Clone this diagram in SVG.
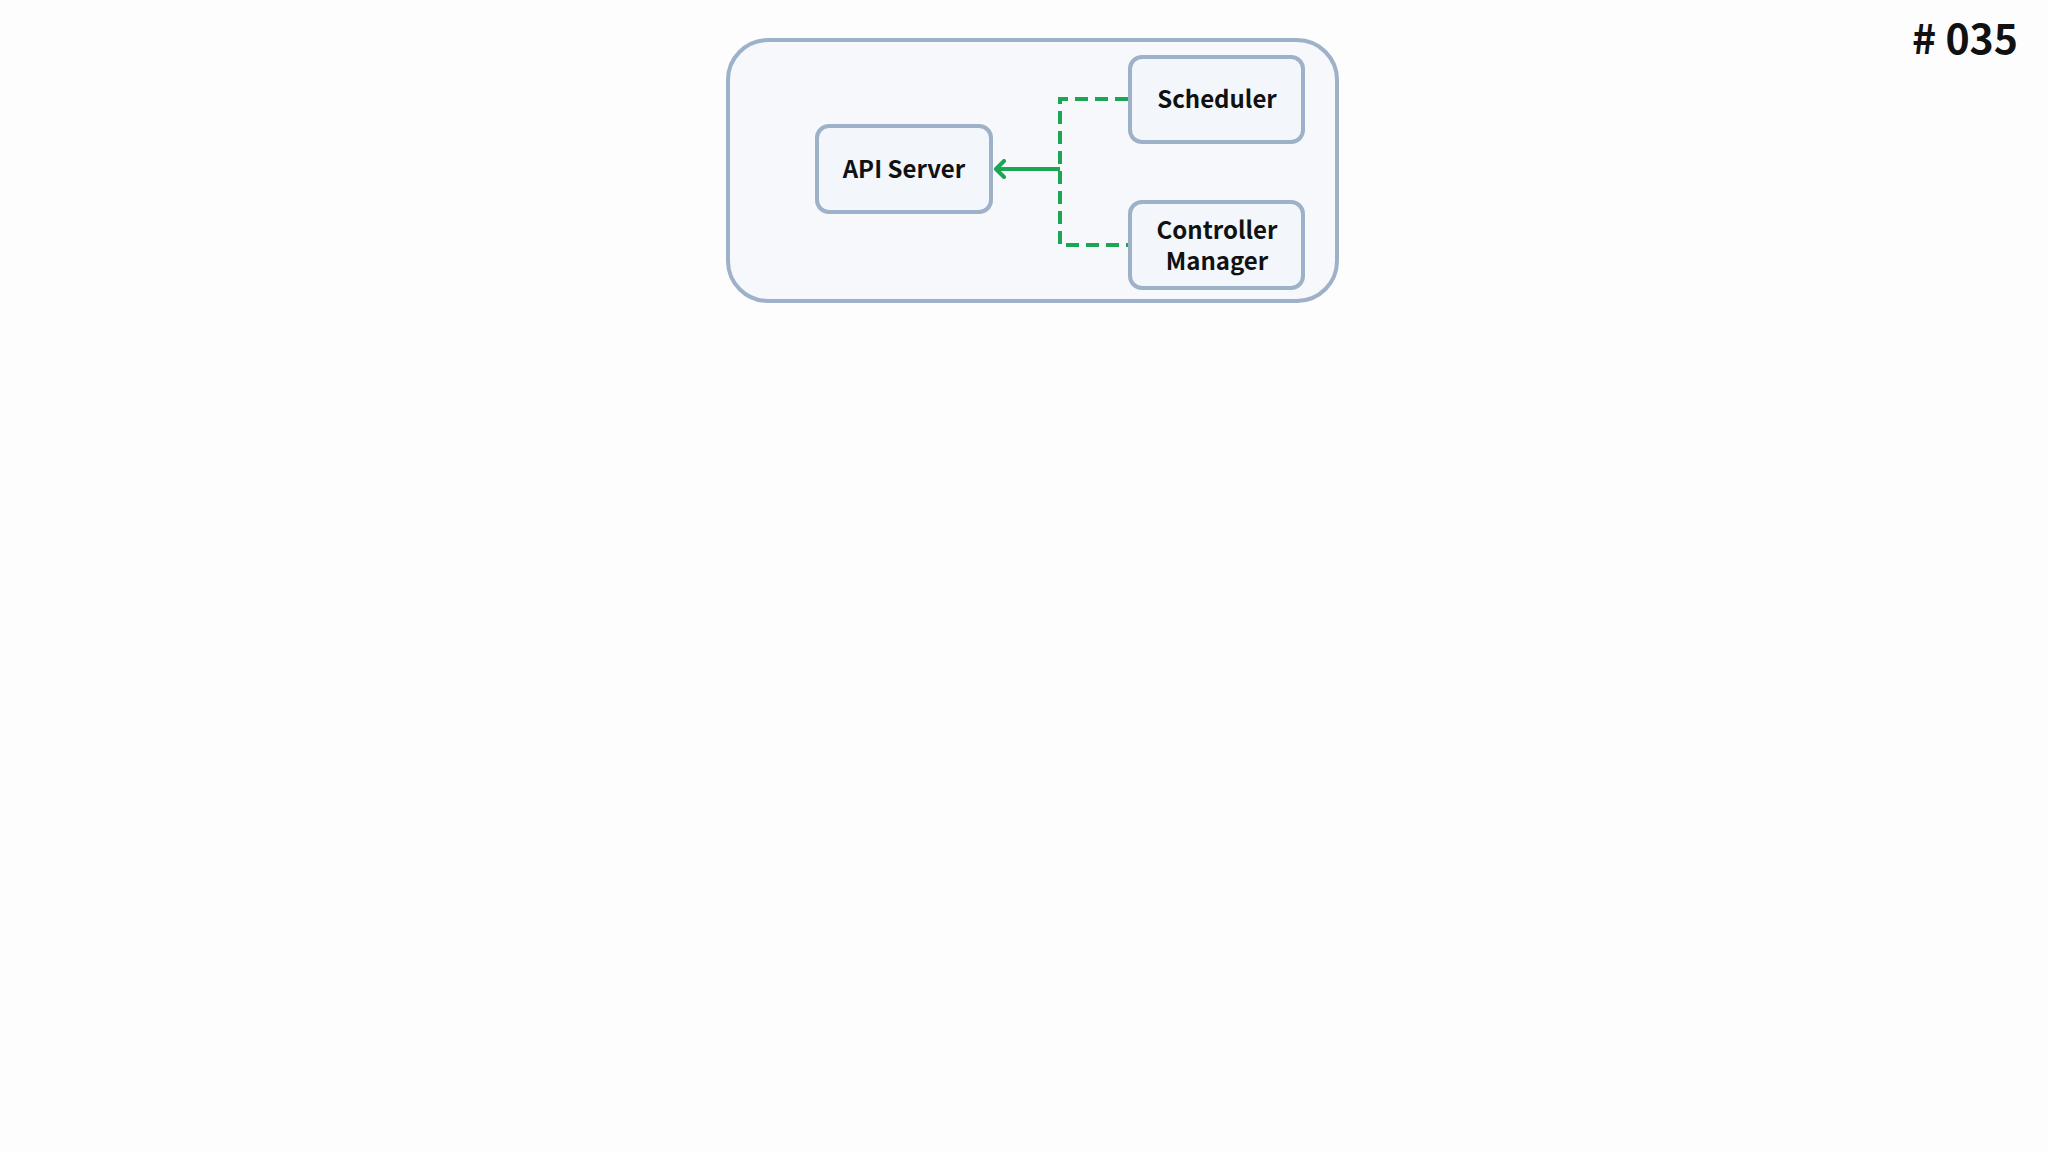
<svg xmlns="http://www.w3.org/2000/svg" width="2048" height="1152" viewBox="0 0 2048 1152">
<defs>
<style>
.box{fill:#f3f6fa;stroke:#9db1c8;stroke-width:4}
.lbl{font-family:"Noto Sans CJK KR","Noto Sans",sans-serif;font-weight:700;font-size:24px;fill:#111;text-anchor:middle}
.dash{fill:none;stroke:#1aa653;stroke-width:4;stroke-dasharray:13 7}
.solid{fill:none;stroke:#1aa653;stroke-width:4}
</style>
<marker id="arr" viewBox="0 0 20 20" refX="17" refY="10" markerWidth="20" markerHeight="20" markerUnits="userSpaceOnUse" orient="auto">
<path d="M9,2 L17,10 L9,18" fill="none" stroke="#1aa653" stroke-width="4" stroke-linecap="round" stroke-linejoin="round"/>
</marker>
</defs>
<rect width="2048" height="1152" fill="#fdfdfd"/>
<g id="cluster">
<rect x="728" y="40" width="609" height="261" rx="40" fill="#f6f8fb" stroke="#9db1c8" stroke-width="4"/>
</g>
<g id="api-server">
<rect class="box" x="817" y="126" width="174" height="86" rx="12"/>
<text class="lbl" x="904" y="178">API Server</text>
</g>
<g id="scheduler">
<rect class="box" x="1130" y="57" width="173" height="85" rx="12"/>
<text class="lbl" x="1217" y="108">Scheduler</text>
</g>
<g id="controller-manager">
<rect class="box" x="1130" y="202" width="173" height="86" rx="12"/>
<text class="lbl" x="1217" y="239">Controller</text>
<text class="lbl" x="1217" y="270">Manager</text>
</g>
<g id="connectors">
<path class="dash" d="M1128,99 H1060 V245 H1128"/>
<path class="solid" d="M1060,169 H996" marker-end="url(#arr)"/>
</g>
<text x="2018" y="54" font-family="'Noto Sans CJK KR','Noto Sans',sans-serif" font-weight="700" font-size="41" fill="#111" text-anchor="end"># 035</text>
</svg>
